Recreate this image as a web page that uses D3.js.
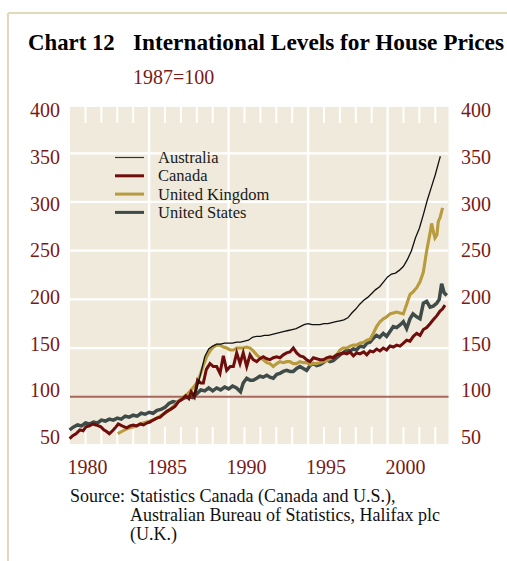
<!DOCTYPE html>
<html>
<head>
<meta charset="utf-8">
<script src="https://cdn.jsdelivr.net/npm/d3@7"></script>
<style>
  body { margin: 0; background: #fff; }
  text { font-family: "Liberation Serif", "Times New Roman", serif; }
</style>
</head>
<body>
<div id="chart"></div>
<script>
// values, [year, index 1987=100]
const australia = [
  [1986.75, 101], [1987.0, 108], [1987.25, 124], [1987.5, 141], [1987.75, 149], [1988.0, 152],
  [1988.25, 154], [1988.5, 154], [1988.75, 155], [1989.0, 155], [1989.25, 155], [1989.5, 156],
  [1989.75, 156], [1990.0, 157], [1990.25, 158], [1990.5, 161], [1990.75, 162], [1991.0, 162],
  [1991.25, 163], [1991.5, 163], [1991.75, 164], [1992.0, 165], [1992.25, 166], [1992.5, 167],
  [1992.75, 168], [1993.0, 169], [1993.25, 170], [1993.5, 172], [1993.75, 174], [1994.0, 175],
  [1994.25, 174], [1994.5, 174], [1994.75, 174], [1995.0, 175], [1995.25, 175], [1995.5, 176],
  [1995.75, 177], [1996.0, 178], [1996.25, 179], [1996.5, 181], [1996.75, 186], [1997.0, 190],
  [1997.25, 195], [1997.5, 199], [1997.75, 202], [1998.0, 206], [1998.25, 210], [1998.5, 213],
  [1998.75, 218], [1999.0, 223], [1999.25, 226], [1999.5, 227], [1999.75, 230], [2000.0, 234],
  [2000.25, 241], [2000.5, 250], [2000.75, 263], [2001.0, 273], [2001.25, 287], [2001.5, 302],
  [2001.75, 315], [2002.0, 328], [2002.25, 343], [2002.32, 347]
]

const canada = [
  [1979.0, 57], [1979.2, 60], [1979.4, 62], [1979.65, 66], [1979.85, 65], [1980.03, 69],
  [1980.25, 70], [1980.45, 72], [1980.66, 71], [1980.97, 69], [1981.15, 66], [1981.35, 64],
  [1981.5, 62], [1981.7, 65], [1981.92, 69], [1982.06, 72], [1982.3, 70], [1982.59, 68],
  [1982.8, 70], [1983.0, 71], [1983.22, 70], [1983.45, 72], [1983.65, 71], [1983.85, 73],
  [1984.05, 74], [1984.25, 76], [1984.48, 78], [1984.7, 79], [1984.9, 82], [1985.11, 85],
  [1985.35, 87], [1985.63, 90], [1985.85, 95], [1986.05, 97], [1986.3, 101], [1986.5, 98],
  [1986.65, 105], [1986.85, 100], [1987.05, 117], [1987.25, 114], [1987.41, 114], [1987.6, 128],
  [1987.83, 134], [1988.04, 131], [1988.25, 131], [1988.46, 124], [1988.67, 142], [1988.88, 127],
  [1989.1, 131], [1989.3, 131], [1989.51, 145], [1989.72, 134], [1989.92, 145], [1990.14, 131],
  [1990.35, 143], [1990.55, 138], [1990.77, 136], [1990.97, 139], [1991.18, 141], [1991.4, 139],
  [1991.6, 138], [1991.81, 140], [1992.03, 141], [1992.23, 140], [1992.44, 143], [1992.65, 145],
  [1992.86, 146], [1993.07, 150], [1993.28, 145], [1993.49, 142], [1993.7, 141], [1993.91, 138],
  [1994.12, 136], [1994.33, 140], [1994.54, 139], [1994.75, 138], [1994.96, 138], [1995.17, 140],
  [1995.38, 141], [1995.58, 140], [1995.8, 143], [1996.01, 144], [1996.21, 145], [1996.43, 144],
  [1996.64, 146], [1996.85, 142], [1997.05, 145], [1997.26, 144], [1997.5, 146], [1997.69, 143],
  [1997.9, 147], [1998.1, 146], [1998.31, 149], [1998.52, 147], [1998.73, 150], [1998.94, 148],
  [1999.15, 152], [1999.36, 151], [1999.57, 153], [1999.78, 152], [2000.0, 155], [2000.2, 158],
  [2000.41, 157], [2000.62, 162], [2000.83, 165], [2001.04, 163], [2001.25, 169], [2001.46, 171],
  [2001.67, 175], [2001.87, 179], [2002.09, 183], [2002.3, 188], [2002.45, 190], [2002.61, 194]
]

const unitedKingdom = [
  [1982.03, 62], [1982.25, 64], [1982.59, 67], [1982.8, 68], [1983.0, 69], [1983.22, 70],
  [1983.45, 72], [1983.64, 73], [1983.85, 74], [1984.05, 75], [1984.25, 76], [1984.48, 78],
  [1984.69, 80], [1984.9, 82], [1985.11, 84], [1985.3, 87], [1985.52, 90], [1985.75, 94],
  [1985.95, 97], [1986.15, 99], [1986.36, 102], [1986.6, 106], [1986.8, 110], [1987.0, 114],
  [1987.2, 122], [1987.41, 132], [1987.62, 141], [1987.83, 147], [1988.04, 151], [1988.25, 153],
  [1988.46, 153], [1988.67, 151], [1988.88, 150], [1989.1, 148], [1989.3, 148], [1989.51, 150],
  [1989.72, 150], [1989.92, 150], [1990.14, 151], [1990.35, 150], [1990.55, 147], [1990.77, 143],
  [1990.97, 140], [1991.18, 138], [1991.4, 135], [1991.6, 134], [1991.81, 131], [1992.03, 134],
  [1992.23, 136], [1992.44, 135], [1992.65, 136], [1992.86, 136], [1993.07, 134], [1993.28, 134],
  [1993.49, 136], [1993.7, 135], [1993.91, 135], [1994.12, 133], [1994.33, 134], [1994.54, 134],
  [1994.75, 135], [1994.96, 136], [1995.17, 137], [1995.38, 139], [1995.58, 141], [1995.8, 143],
  [1996.01, 148], [1996.21, 150], [1996.43, 150], [1996.64, 152], [1996.85, 153], [1997.05, 153],
  [1997.26, 155], [1997.5, 156], [1997.69, 158], [1997.9, 159], [1998.1, 165], [1998.31, 172],
  [1998.52, 177], [1998.73, 180], [1998.94, 182], [1999.15, 185], [1999.36, 186], [1999.57, 187],
  [1999.78, 186], [1999.99, 185], [2000.2, 195], [2000.41, 205], [2000.62, 208], [2000.83, 212],
  [2001.04, 218], [2001.25, 228], [2001.46, 250], [2001.67, 268], [2001.77, 278], [2001.9, 268],
  [2001.98, 263], [2002.1, 266], [2002.19, 280], [2002.3, 284], [2002.46, 294]
]

const unitedStates = [
  [1979.0, 66], [1979.25, 69], [1979.5, 71], [1979.75, 70], [1980.0, 73], [1980.25, 72],
  [1980.5, 74], [1980.75, 73], [1981.0, 76], [1981.25, 75], [1981.5, 77], [1981.75, 76],
  [1982.0, 78], [1982.25, 77], [1982.5, 80], [1982.75, 79], [1983.0, 81], [1983.25, 80],
  [1983.5, 83], [1983.75, 82], [1984.0, 84], [1984.25, 83], [1984.5, 86], [1984.75, 87],
  [1985.0, 89], [1985.25, 93], [1985.5, 95], [1985.75, 94], [1986.0, 97], [1986.25, 99],
  [1986.5, 100], [1986.75, 99], [1987.0, 103], [1987.25, 107], [1987.5, 106], [1987.75, 109],
  [1988.0, 106], [1988.25, 109], [1988.5, 107], [1988.75, 110], [1989.0, 108], [1989.25, 111],
  [1989.5, 109], [1989.75, 105], [1989.92, 114], [1990.14, 119], [1990.35, 117], [1990.55, 117],
  [1990.77, 119], [1990.97, 121], [1991.18, 120], [1991.4, 122], [1991.6, 120], [1991.81, 119],
  [1992.03, 123], [1992.23, 124], [1992.44, 126], [1992.65, 127], [1992.86, 126], [1993.07, 126],
  [1993.28, 129], [1993.49, 131], [1993.7, 129], [1993.91, 127], [1994.12, 132], [1994.33, 134],
  [1994.54, 132], [1994.75, 133], [1994.96, 135], [1995.17, 138], [1995.38, 136], [1995.58, 137],
  [1995.8, 140], [1996.01, 143], [1996.21, 145], [1996.43, 148], [1996.64, 147], [1996.85, 149],
  [1997.05, 148], [1997.26, 152], [1997.5, 151], [1997.7, 155], [1997.89, 156], [1998.1, 160],
  [1998.3, 163], [1998.5, 161], [1998.73, 165], [1998.94, 162], [1999.15, 167], [1999.36, 172],
  [1999.57, 171], [1999.8, 174], [1999.99, 177], [2000.2, 170], [2000.41, 180], [2000.6, 185],
  [2000.83, 182], [2001.04, 180], [2001.25, 196], [2001.46, 198], [2001.67, 192], [2001.87, 193],
  [2002.09, 196], [2002.25, 200], [2002.4, 216], [2002.55, 207], [2002.72, 204]
]

const seriesNames = ["Australia", "Canada", "United Kingdom", "United States"]
const yearLabels = [1980, 1985, 1990, 1995, 2000]
const gridYears = [1984, 1989, 1994, 1999]
const minorYears = [1980, 1981, 1982, 1983, 1985, 1986, 1987, 1988, 1990, 1991, 1992, 1993,
  1995, 1996, 1997, 1998, 2000, 2001, 2002]
const valueTicks = [50, 100, 150, 200, 250, 300, 350, 400]
const gridValues = [150, 200, 250, 300, 350]
const baseValue = 100

const WIDTH = 507
const HEIGHT = 561
const PLOT = { LEFT: 70, RIGHT: 448.5, TOP: 107, BOTTOM: 444 }

const RED = "#7a1a17"
const styles = {
  "Australia": { color: "#111111", width: 1.3, legendColor: "#333", legendWidth: 1.2 },
  "Canada": { color: "#6e0d0b", width: 3, legendColor: "#6e0d0b", legendWidth: 3 },
  "United Kingdom": { color: "#b89b3d", width: 3.1, legendColor: "#b89b3d", legendWidth: 3 },
  "United States": { color: "#3f4b48", width: 3.5, legendColor: "#3f4b48", legendWidth: 3 }
}
const dataByName = {
  "Australia": australia,
  "Canada": canada,
  "United Kingdom": unitedKingdom,
  "United States": unitedStates
}

const svg = d3.select("#chart").append("svg")
  .attr("width", WIDTH)
  .attr("height", HEIGHT)

// frame
svg.append("line").attr("x1", 8).attr("x2", 8).attr("y1", 13).attr("y2", HEIGHT)
  .attr("stroke", "#e0d9bc").attr("stroke-width", 2)
svg.append("line").attr("x1", 8).attr("x2", WIDTH).attr("y1", 13).attr("y2", 13)
  .attr("stroke", "#e0d9bc").attr("stroke-width", 2)

// titles
svg.append("text").attr("x", 28).attr("y", 49.5)
  .attr("font-size", 22.8).attr("font-weight", "bold").attr("fill", "#000")
  .text("Chart 12")
svg.append("text").attr("x", 133).attr("y", 49.5)
  .attr("font-size", 23.3).attr("font-weight", "bold").attr("fill", "#000")
  .text("International Levels for House Prices")
svg.append("text").attr("x", 133).attr("y", 84)
  .attr("font-size", 20).attr("fill", RED)
  .text("1987=100")

const x = d3.scaleLinear().domain([1979, 2002.8]).range([69.6, 448])
const y = d3.scaleLinear().domain([50, 400]).range([445.4, 104.6])
// tick labels sit on a slightly tighter spacing than the grid
const labelY = d3.scaleLinear().domain([50, 400]).range([437, 110.5])

const g = svg.append("g")

g.append("rect")
  .attr("x", PLOT.LEFT).attr("y", PLOT.TOP)
  .attr("width", PLOT.RIGHT - PLOT.LEFT).attr("height", PLOT.BOTTOM - PLOT.TOP)
  .attr("fill", "#efeadb")

// grid
g.selectAll(".hgrid").data(gridValues).enter().append("line")
  .attr("x1", PLOT.LEFT).attr("x2", PLOT.RIGHT)
  .attr("y1", d => y(d)).attr("y2", d => y(d))
  .attr("stroke", "#fff").attr("stroke-width", 2.2)

g.selectAll(".vgrid").data(gridYears).enter().append("line")
  .attr("x1", d => x(d)).attr("x2", d => x(d))
  .attr("y1", PLOT.TOP).attr("y2", PLOT.BOTTOM)
  .attr("stroke", "#fff").attr("stroke-width", 2.4)

g.selectAll(".ticktop").data(minorYears).enter().append("line")
  .attr("x1", d => x(d)).attr("x2", d => x(d))
  .attr("y1", PLOT.TOP).attr("y2", PLOT.TOP + 16)
  .attr("stroke", "#fff").attr("stroke-width", 2)

g.selectAll(".tickbottom").data(minorYears).enter().append("line")
  .attr("x1", d => x(d)).attr("x2", d => x(d))
  .attr("y1", PLOT.BOTTOM - 17).attr("y2", PLOT.BOTTOM)
  .attr("stroke", "#fff").attr("stroke-width", 2)

g.append("line")
  .attr("x1", PLOT.LEFT).attr("x2", PLOT.RIGHT)
  .attr("y1", y(baseValue)).attr("y2", y(baseValue))
  .attr("stroke", "#a8675d").attr("stroke-width", 2)

// series
const line = d3.line().x(d => x(d[0])).y(d => y(d[1]))
const drawOrder = ["United States", "United Kingdom", "Canada", "Australia"]
drawOrder.forEach(name => {
  g.append("path")
    .datum(dataByName[name])
    .attr("fill", "none")
    .attr("stroke", styles[name].color)
    .attr("stroke-width", styles[name].width)
    .attr("stroke-linejoin", "miter")
    .attr("d", line)
})

// legend
const legend = g.selectAll(".legend").data(seriesNames).enter().append("g")
  .attr("transform", (d, i) => `translate(115, ${157.5 + i * 18.3})`)
legend.append("line")
  .attr("x1", 0).attr("x2", 29).attr("y1", 0).attr("y2", 0)
  .attr("stroke", d => styles[d].legendColor)
  .attr("stroke-width", d => styles[d].legendWidth)
legend.append("text")
  .attr("x", 43).attr("y", 0).attr("dy", "0.33em")
  .attr("font-size", 16.5).attr("fill", "#1a1a1a")
  .text(d => d)

// axes
const styleAxis = sel => {
  sel.select(".domain").remove()
  sel.selectAll("text")
    .attr("font-family", "Liberation Serif, serif")
    .attr("font-size", 20)
    .attr("fill", RED)
}

svg.append("g")
  .attr("transform", "translate(60, 0)")
  .call(d3.axisLeft(labelY).tickValues(valueTicks).tickSize(0).tickPadding(0))
  .call(styleAxis)

svg.append("g")
  .attr("transform", "translate(461, 0)")
  .call(d3.axisRight(labelY).tickValues(valueTicks).tickSize(0).tickPadding(0))
  .call(styleAxis)

svg.append("g")
  .attr("transform", "translate(1.5, 460)")
  .call(d3.axisBottom(x).tickValues(yearLabels).tickFormat(d3.format("d")).tickSize(0).tickPadding(0))
  .call(styleAxis)

// source note
const source = svg.append("text")
  .attr("font-size", 18).attr("fill", "#111")
source.append("tspan").attr("x", 70).attr("y", 502).text("Source:")
source.append("tspan").attr("x", 130).attr("y", 502).text("Statistics Canada (Canada and U.S.),")
source.append("tspan").attr("x", 130).attr("y", 521).text("Australian Bureau of Statistics, Halifax plc")
source.append("tspan").attr("x", 130).attr("y", 540).text("(U.K.)")
</script>
</body>
</html>
